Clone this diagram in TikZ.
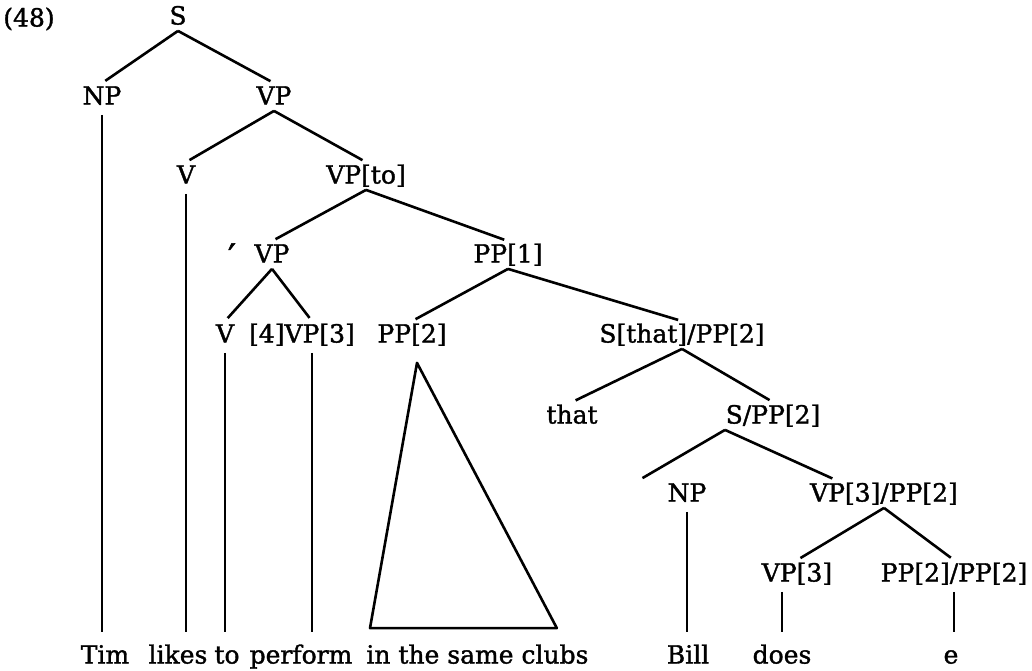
\documentclass[tikz,border=0pt]{standalone}
\usepackage{fontspec}
\setmainfont[FakeBold=1.4]{DejaVu Serif}
\tikzset{
    %Define style for category labels
    cat/.style={
           inner sep=1pt,
           text height=9.5pt,
           text depth=2pt,
           font=\fontsize{12.5}{14}\selectfont},
    %Define style for the words of the sentence
    word/.style={
           cat},
    % Define line styles
    branch/.style={
           line width=1.3pt,
           shorten >=2pt},
    stem/.style={
           line width=1.3pt,
           shorten <=2pt,
           shorten >=5pt}
}

\begin{document}
\begin{tikzpicture}[x=0.5pt, y=-0.5pt]
 \useasboundingbox (0,0) rectangle (1032,670);
 %nodes
    \node[cat] (num) at (29,19) {(48)};
    \node[cat] (s) at (178,17) {S};
    \node[cat] (np) at (102,97) {NP};
    \node[cat] (vp) at (274,97) {VP};
    \node[cat] (v) at (186,176) {V};
    \node[cat] (vpto) at (366,176) {VP[to]};
    \node[cat, font=\fontsize{18}{20}\selectfont] (tick) at (232,262) {′};
    \node[cat] (vpb) at (272,255) {VP};
    \node[cat] (ppone) at (508,255) {PP[1]};
    \node[cat] (vc) at (225,335) {V};
    \node[cat] (vpfour) at (302,335) {[4]VP[3]};
    \node[cat] (pptwo) at (412,335) {PP[2]};
    \node[cat] (sthat) at (682,335) {S[that]/PP[2]};
    \node[cat] (that) at (572,416) {that};
    \node[cat] (spp) at (773,416) {S/PP[2]};
    \node[cat] (npb) at (687,494) {NP};
    \node[cat] (vpslash) at (884,494) {VP[3]/PP[2]};
    \node[cat] (vpt) at (797,574) {VP[3]};
    \node[cat] (pppp) at (954,574) {PP[2]/PP[2]};
 %words
    \node[word] (tim) at (105,656) {Tim};
    \node[word] (likes) at (178,656) {likes};
    \node[word] (to) at (227,656) {to};
    \node[word] (perform) at (301,656) {perform};
    \node[word, anchor=west] (clubs) at (364,656) {in the same clubs};
    \node[word] (bill) at (688,656) {Bill};
    \node[word] (does) at (782,656) {does};
    \node[word] (e) at (951,656) {e};
 %edges
    \draw[branch] (s.south) -- (np.north);
    \draw[branch] (s.south) -- (vp.north);
    \draw[branch] (vp.south) -- (v.north);
    \draw[branch] (vp.south) -- (vpto.north);
    \draw[branch] (vpto.south) -- (vpb.north);
    \draw[branch] (vpto.south) -- (ppone.north);
    \draw[branch] (vpb.south) -- (vc.north);
    \draw[branch] (vpb.south) -- ([xshift=5pt]vpfour.north);
    \draw[branch] (ppone.south) -- (pptwo.north);
    \draw[branch] (ppone.south) -- (sthat.north);
    \draw[branch] (sthat.south) -- (that.north);
    \draw[branch] (sthat.south) -- (spp.north);
    \draw[branch] ([xshift=-24pt]spp.south) -- ([xshift=-24pt]npb.north);
    \draw[branch] ([xshift=-24pt]spp.south) -- ([xshift=-24pt]vpslash.north);
    \draw[branch] (vpslash.south) -- (vpt.north);
    \draw[branch] (vpslash.south) -- (pppp.north);
 %stems down to the words
    \draw[stem] (np.south) -- (np.south |- tim.north);
    \draw[stem] (v.south) -- (v.south |- likes.north);
    \draw[stem] (vc.south) -- (vc.south |- to.north);
    \draw[stem] ([xshift=5pt]vpfour.south) -- ([xshift=5pt]vpfour.south |- perform.north);
    \draw[stem] (npb.south) -- (npb.south |- bill.north);
    \draw[stem] (does.north |- vpt.south) -- (does.north);
    \draw[stem] (pppp.south) -- (pppp.south |- e.north);
 %the PP[2] triangle
    \draw[line width=1.3pt, line join=round]
        ([shift={(2.5pt,-7pt)}]pptwo.south)
        -- ([shift={(3pt,7pt)}]clubs.north west)
        -- ([shift={(-17pt,7pt)}]clubs.north east) -- cycle;
\end{tikzpicture}
\end{document}
